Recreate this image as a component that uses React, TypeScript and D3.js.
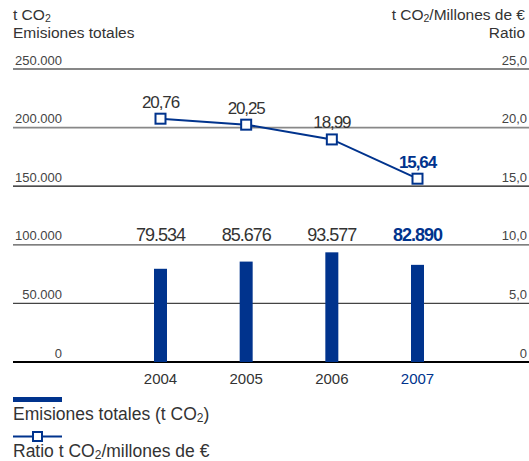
import React from "react";
import * as d3 from "d3";

const years = ["2004", "2005", "2006", "2007"];
const emissions = [79534, 85676, 93577, 82890];
const ratios = [20.76, 20.25, 18.99, 15.64];
const leftTicks = [0, 50000, 100000, 150000, 200000, 250000];
const rightTicks = [0, 5, 10, 15, 20, 25];

const W = 529;
const H = 461;
const BLUE = "#00338d";
const TEXT = "#333";
const FONT = "'Liberation Sans', Arial, Helvetica, sans-serif";

const locale = d3.formatLocale({ decimal: ",", thousands: ".", grouping: [3], currency: ["", "€"] });
const fmtLeft = (v: number) => (v === 0 ? "0" : locale.format(",")(v));
const fmtRight = (v: number) => (v === 0 ? "0" : locale.format(".1f")(v));
const fmtRatio = locale.format(".2f");
const fmtEm = locale.format(",");

const gridStyle = (i: number) => {
  const styles = [
    { stroke: "#000", w: 2 },
    { stroke: "#444", w: 1.3 },
    { stroke: "#555", w: 1.3 },
    { stroke: "#111", w: 1.2 },
    { stroke: "#888", w: 1.6 },
    { stroke: "#111", w: 1.2 },
  ];
  return styles[i];
};

export default function App() {
  const yL = d3.scaleLinear().domain([0, 250000]).range([362, 69]);
  const yR = d3.scaleLinear().domain([0, 25]).range([362, 69]);
  const x = d3.scalePoint<string>().domain(years).range([160.5, 417.5]);
  const barW = 13;
  const line = d3
    .line<number>()
    .x((_, i) => x(years[i]) as number)
    .y((d) => yR(d));
  const last = years.length - 1;

  return (
    <svg width={W} height={H} style={{ position: "absolute", left: 0, top: 0, fontFamily: FONT }}>
      <rect width={W} height={H} fill="#fff" />
      {/* axis titles */}
      <text x={13} y={20} fontSize={15.5} fill={TEXT}>
        t CO<tspan fontSize={10.5} dy={2}>2</tspan>
      </text>
      <text x={13} y={38} fontSize={15.5} fill={TEXT}>Emisiones totales</text>
      <text x={525} y={20} fontSize={15.5} fill={TEXT} textAnchor="end">
        t CO<tspan fontSize={10.5} dy={2}>2</tspan><tspan dy={-2}>/Millones de €</tspan>
      </text>
      <text x={525} y={38} fontSize={15.5} fill={TEXT} textAnchor="end">Ratio</text>

      {/* gridlines + ticks */}
      {leftTicks.map((t, i) => {
        const s = gridStyle(i);
        return (
          <g key={t}>
            <line x1={13} x2={W} y1={yL(t)} y2={yL(t)} stroke={s.stroke} strokeWidth={s.w} />
            <text x={62} y={yL(t) - 4.5} fontSize={13} fill="#444" textAnchor="end">{fmtLeft(t)}</text>
            <text x={527} y={yR(rightTicks[i]) - 4.5} fontSize={13} fill="#444" textAnchor="end">
              {fmtRight(rightTicks[i])}
            </text>
          </g>
        );
      })}

      {/* bars */}
      {emissions.map((v, i) => (
        <rect
          key={years[i]}
          x={(x(years[i]) as number) - barW / 2}
          y={yL(v)}
          width={barW}
          height={yL(0) - yL(v)}
          fill={BLUE}
        />
      ))}
      {emissions.map((v, i) => (
        <text
          key={"el" + i}
          x={x(years[i]) as number}
          y={yL(100000) - 4}
          fontSize={18}
          letterSpacing={-1}
          textAnchor="middle"
          fill={i === last ? BLUE : TEXT}
          fontWeight={i === last ? "bold" : "normal"}
        >
          {fmtEm(v)}
        </text>
      ))}

      {/* ratio line */}
      <path d={line(ratios) as string} fill="none" stroke={BLUE} strokeWidth={2} />
      {ratios.map((v, i) => (
        <rect
          key={"m" + i}
          x={(x(years[i]) as number) - 5}
          y={yR(v) - 5}
          width={10}
          height={10}
          fill="#fff"
          stroke={BLUE}
          strokeWidth={2}
        />
      ))}
      {ratios.map((v, i) => (
        <text
          key={"rl" + i}
          x={x(years[i]) as number}
          y={yR(v) - 11}
          fontSize={17}
          letterSpacing={-1.1}
          textAnchor="middle"
          fill={i === last ? BLUE : TEXT}
          fontWeight={i === last ? "bold" : "normal"}
        >
          {fmtRatio(v)}
        </text>
      ))}

      {/* year labels */}
      {years.map((yr, i) => (
        <text
          key={"y" + yr}
          x={x(yr) as number}
          y={384}
          fontSize={15}
          textAnchor="middle"
          fill={i === last ? BLUE : TEXT}
        >
          {yr}
        </text>
      ))}

      {/* legend */}
      <rect x={13} y={397} width={49} height={5} fill={BLUE} />
      <text x={13} y={420} fontSize={17.5} fill={TEXT}>
        Emisiones totales (t CO<tspan fontSize={12} dy={2}>2</tspan><tspan dy={-2}>)</tspan>
      </text>
      <line x1={13} x2={62} y1={436.5} y2={436.5} stroke={BLUE} strokeWidth={2} />
      <rect x={33} y={432} width={9} height={9} fill="#fff" stroke={BLUE} strokeWidth={2} />
      <text x={13} y={457} fontSize={17.5} fill={TEXT}>
        Ratio t CO<tspan fontSize={12} dy={2}>2</tspan><tspan dy={-2}>/millones de €</tspan>
      </text>
    </svg>
  );
}
